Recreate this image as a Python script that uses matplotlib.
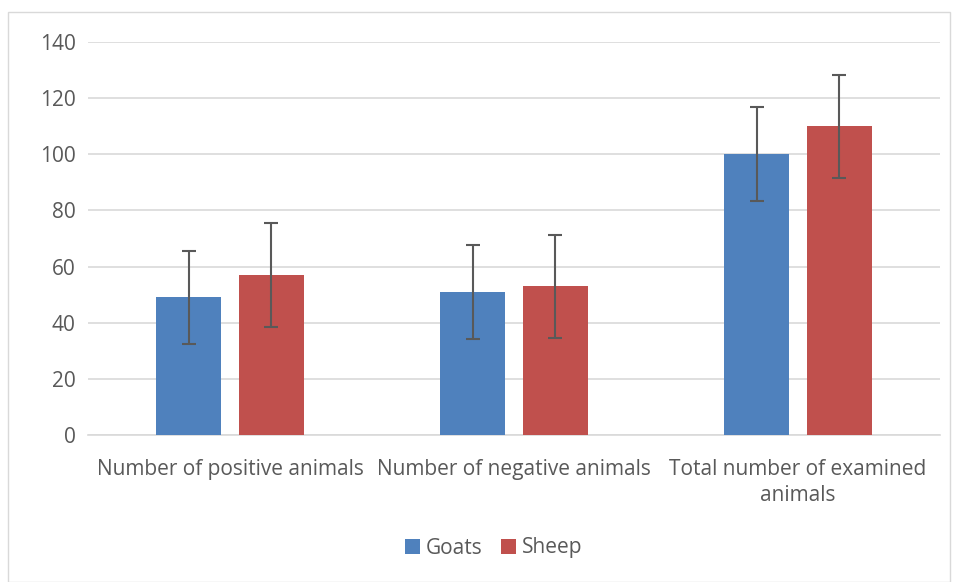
import matplotlib.pyplot as plt
from matplotlib.patches import Rectangle
import numpy as np

categories = ['Number of positive animals', 'Number of negative animals',
              'Total number of examined\nanimals']
goats = [49, 51, 100]
sheep = [57, 53, 110]
goats_err = [16.7, 16.7, 16.7]
sheep_err = [18.4, 18.4, 18.4]

plt.rcParams['font.family'] = ['Open Sans', 'DejaVu Sans']

fig = plt.figure(figsize=(9.57, 5.82), dpi=100)
ax = fig.add_axes([88 / 957, 1 - 435 / 582, 852 / 957, 393 / 582])

# outer chart border
fig.patches.append(Rectangle((8 / 957, 0), 942 / 957, 1 - 12 / 582,
                             transform=fig.transFigure, fill=False,
                             edgecolor='#D9D9D9', linewidth=1))

x = np.arange(len(categories))
w = 0.229
off = 0.146
err_style = dict(ecolor='#595959', elinewidth=1.5, capsize=5, capthick=1.5)
ax.bar(x - off, goats, w, color='#4F81BD', label='Goats', yerr=goats_err,
       error_kw=err_style, zorder=3)
ax.bar(x + off, sheep, w, color='#C0504D', label='Sheep', yerr=sheep_err,
       error_kw=err_style, zorder=3)

ax.set_xlim(-0.5, 2.5)
ax.set_ylim(0, 140)
ax.set_yticks(range(0, 141, 20))
ax.yaxis.grid(True, color='#D9D9D9', linewidth=1.2, zorder=0)
ax.set_xticks(x)
ax.set_xticklabels(categories, fontsize=15, color='#595959', linespacing=1.35)
ax.tick_params(axis='y', labelsize=15, labelcolor='#595959', length=0, pad=9)
ax.tick_params(axis='x', length=0, pad=17)
for s in ['top', 'right', 'left']:
    ax.spines[s].set_visible(False)
ax.spines['bottom'].set_color('#D9D9D9')
ax.spines['bottom'].set_linewidth(1.2)

fig.legend(loc='center', bbox_to_anchor=(494 / 957, 1 - 548 / 582), ncol=2,
           frameon=False, fontsize=15, labelcolor='#595959',
           handlelength=0.7, handleheight=0.7, handletextpad=0.3,
           columnspacing=0.9)

fig.savefig('out.png', dpi=100)
